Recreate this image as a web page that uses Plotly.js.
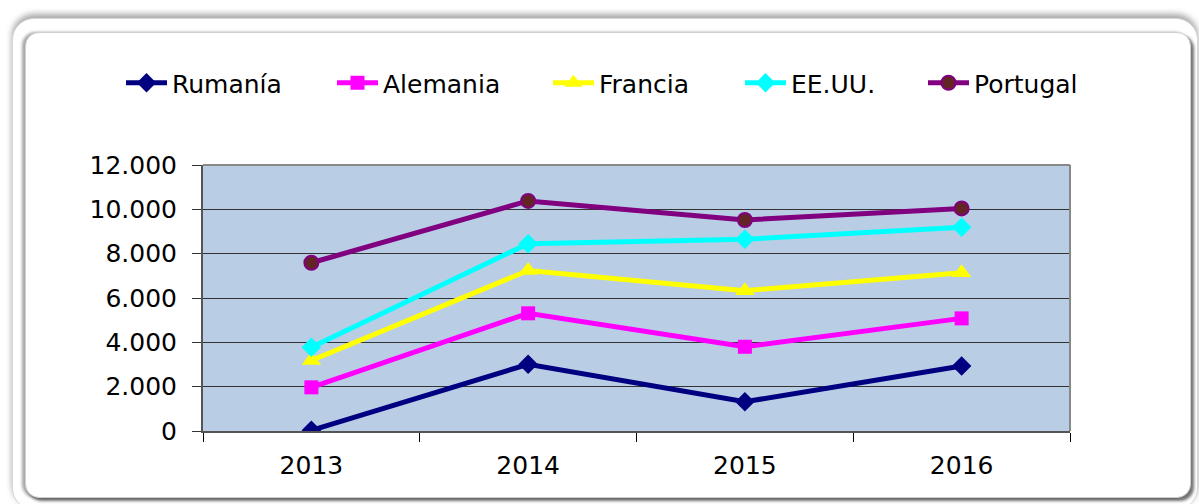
<!DOCTYPE html>
<html>
<head>
<meta charset="utf-8">
<script src="https://cdn.plot.ly/plotly-3.0.1.min.js"></script>
<style>
  html, body { margin: 0; padding: 0; background: #fff; width: 1199px; height: 504px; overflow: hidden; }
  .frame-outer {
    position: absolute; left: 12px; top: 18px; width: 1184px; height: 490px;
    border-radius: 22px; border: 1px solid #d8d8d8; background: #fff;
    box-shadow: 0 -4px 6px rgba(0,0,0,0.35);
  }
  .frame-inner {
    position: absolute; left: 25px; top: 32px; width: 1164px; height: 464px;
    border-radius: 14px; border: 1px solid #d0d0d0; background: #fff;
    box-shadow: -3px 0 3px rgba(0,0,0,0.35), 3px 3px 3px rgba(0,0,0,0.55);
  }
  #chart { position: absolute; left: 0; top: 0; width: 1199px; height: 504px; }
</style>
</head>
<body>
<div class="frame-outer"></div>
<div class="frame-inner"></div>
<div id="chart"></div>
<script>
  // Years on the x axis
  const years = ['2013', '2014', '2015', '2016'];

  // Series values
  const rumania  = [30, 3010, 1320, 2930];
  const alemania = [1970, 5310, 3800, 5080];
  const francia  = [3180, 7240, 6330, 7140];
  const eeuu     = [3780, 8450, 8650, 9190];
  const portugal = [7590, 10380, 9520, 10040];

  const FONT = 'Verdana, "DejaVu Sans", sans-serif';
  const W = 1199, H = 504;

  const traces = [
    {
      name: 'Rumanía', x: years, y: rumania, type: 'scatter', mode: 'lines+markers',
      legend: 'legend',
      line: { color: '#000080', width: 5 },
      marker: { symbol: 'diamond', size: 15, color: '#000080' }
    },
    {
      name: 'Alemania', x: years, y: alemania, type: 'scatter', mode: 'lines+markers',
      legend: 'legend2',
      line: { color: '#FF00FF', width: 5 },
      marker: { symbol: 'square', size: 14, color: '#FF00FF' }
    },
    {
      name: 'Francia', x: years, y: francia, type: 'scatter', mode: 'lines+markers',
      legend: 'legend3',
      line: { color: '#FFFF00', width: 5 },
      marker: { symbol: 'triangle-up', size: 17, color: '#FFFF00' }
    },
    {
      name: 'EE.UU.', x: years, y: eeuu, type: 'scatter', mode: 'lines+markers',
      legend: 'legend4',
      line: { color: '#00FFFF', width: 5 },
      marker: { symbol: 'diamond', size: 15, color: '#00FFFF' }
    },
    {
      name: 'Portugal', x: years, y: portugal, type: 'scatter', mode: 'lines+markers',
      legend: 'legend5',
      line: { color: '#800080', width: 5 },
      marker: { symbol: 'circle', size: 14, color: '#632523', line: { color: '#800080', width: 2 } }
    }
  ];

  // one legend box per entry so the spacing follows the original
  function legendAt(px) {
    return {
      xref: 'container', yref: 'container',
      x: px / W, xanchor: 'left',
      y: 1 - 83 / H, yanchor: 'middle',
      itemwidth: 41,
      font: { family: FONT, size: 25, color: '#000' },
      bgcolor: 'rgba(0,0,0,0)'
    };
  }

  const layout = {
    width: W,
    height: H,
    paper_bgcolor: 'rgba(0,0,0,0)',
    plot_bgcolor: '#B9CDE5',
    font: { family: FONT, size: 25, color: '#000' },
    separators: ',.',
    showlegend: true,
    legend: legendAt(121),
    legend2: legendAt(332),
    legend3: legendAt(548),
    legend4: legendAt(740),
    legend5: legendAt(923),
    xaxis: {
      type: 'category',
      tickson: 'boundaries',
      ticks: 'outside',
      ticklen: 9,
      tickcolor: '#000',
      tickwidth: 1,
      tickangle: 0,
      ticklabelstandoff: 11,
      showline: true,
      linecolor: '#555',
      linewidth: 2,
      showgrid: false,
      zeroline: false,
      range: [-0.5, 3.5],
      fixedrange: true
    },
    yaxis: {
      range: [0, 12000],
      tickvals: [0, 2000, 4000, 6000, 8000, 10000, 12000],
      tickformat: ',d',
      ticks: 'outside',
      ticklen: 9,
      tickcolor: '#333',
      ticklabelstandoff: 10,
      showline: true,
      linecolor: '#555',
      linewidth: 2,
      showgrid: true,
      gridcolor: '#333',
      gridwidth: 1,
      zeroline: false,
      fixedrange: true
    },
    shapes: [
      // top and right border of the plot area
      { type: 'line', xref: 'paper', yref: 'paper', x0: 0, x1: 1, y0: 1, y1: 1, line: { color: '#888', width: 2 } },
      { type: 'line', xref: 'paper', yref: 'paper', x0: 1, x1: 1, y0: 0, y1: 1, line: { color: '#888', width: 2 } }
    ],
    margin: { l: 203, r: 129, t: 165, b: 73, autoexpand: false }
  };

  Plotly.newPlot('chart', traces, layout, { displayModeBar: false, staticPlot: true });
</script>
</body>
</html>
